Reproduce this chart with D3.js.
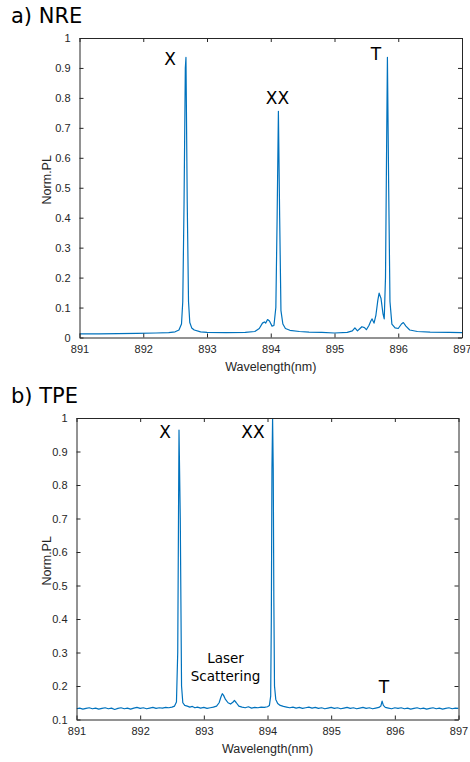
<!DOCTYPE html>
<html><head><meta charset="utf-8">
<script src="https://cdn.jsdelivr.net/npm/d3@7"></script>
<style>body{margin:0;background:#fff}svg{display:block}</style>
</head><body>
<script>
// ---------- DATA ----------
const xTicks = [891, 892, 893, 894, 895, 896, 897];
const yTicksA = [0, 0.1, 0.2, 0.3, 0.4, 0.5, 0.6, 0.7, 0.8, 0.9, 1];
const yTicksB = [0.1, 0.2, 0.3, 0.4, 0.5, 0.6, 0.7, 0.8, 0.9, 1];

// Panel a) NRE spectrum: wavelength (nm), normalized PL
const nreWl = [891.00,891.30,891.60,891.90,892.20,892.40,892.50,892.56,892.60,892.62,892.64,892.66,892.67,892.69,892.71,892.73,892.76,892.80,892.90,893.00,893.30,893.60,893.75,893.82,893.87,893.90,893.92,893.95,893.98,894.02,894.05,894.08,894.10,894.12,894.14,894.16,894.19,894.23,894.30,894.45,894.60,894.80,895.00,895.20,895.28,895.32,895.36,895.40,895.43,895.47,895.50,895.54,895.57,895.59,895.62,895.65,895.68,895.70,895.73,895.76,895.78,895.80,895.82,895.83,895.85,895.87,895.90,895.95,896.00,896.05,896.08,896.12,896.18,896.30,896.50,896.80,897.00];
const nreVal = [0.012,0.012,0.013,0.014,0.015,0.016,0.019,0.025,0.045,0.12,0.45,0.90,0.935,0.45,0.12,0.05,0.032,0.025,0.019,0.017,0.016,0.017,0.020,0.030,0.048,0.052,0.048,0.060,0.055,0.038,0.040,0.10,0.40,0.755,0.40,0.09,0.045,0.030,0.024,0.020,0.018,0.017,0.015,0.017,0.022,0.032,0.022,0.030,0.036,0.033,0.026,0.040,0.055,0.062,0.048,0.075,0.125,0.148,0.130,0.080,0.062,0.20,0.70,0.935,0.50,0.12,0.045,0.032,0.030,0.045,0.050,0.038,0.025,0.020,0.018,0.017,0.016];

// Panel b) TPE spectrum
const tpeWl = [891.00,891.05,891.10,891.15,891.20,891.25,891.30,891.35,891.40,891.45,891.50,891.55,891.60,891.65,891.70,891.75,891.80,891.85,891.90,891.95,892.00,892.05,892.10,892.15,892.20,892.25,892.30,892.35,892.40,892.45,892.50,892.54,892.57,892.59,892.61,892.63,892.65,892.67,892.70,892.74,892.78,892.82,892.86,892.90,892.95,893.00,893.05,893.10,893.15,893.20,893.24,893.27,893.29,893.31,893.34,893.38,893.42,893.46,893.48,893.51,893.55,893.60,893.65,893.70,893.75,893.80,893.85,893.90,893.95,894.00,894.03,894.05,894.06,894.07,894.08,894.09,894.10,894.11,894.13,894.16,894.20,894.25,894.30,894.35,894.40,894.45,894.50,894.55,894.60,894.65,894.70,894.75,894.80,894.85,894.90,894.95,895.00,895.05,895.10,895.15,895.20,895.25,895.30,895.35,895.40,895.45,895.50,895.55,895.60,895.65,895.70,895.75,895.78,895.80,895.82,895.85,895.90,895.95,896.00,896.05,896.10,896.15,896.20,896.25,896.30,896.35,896.40,896.45,896.50,896.55,896.60,896.65,896.70,896.75,896.80,896.85,896.90,896.95,897.00];
const tpeVal = [0.132,0.134,0.131,0.133,0.135,0.132,0.134,0.131,0.133,0.135,0.132,0.134,0.130,0.133,0.135,0.132,0.134,0.131,0.134,0.136,0.133,0.135,0.132,0.134,0.136,0.133,0.135,0.134,0.136,0.135,0.137,0.140,0.152,0.30,0.964,0.70,0.20,0.150,0.142,0.140,0.137,0.139,0.135,0.137,0.134,0.136,0.133,0.135,0.137,0.140,0.150,0.168,0.177,0.172,0.160,0.150,0.146,0.152,0.157,0.150,0.140,0.137,0.135,0.138,0.134,0.136,0.135,0.137,0.136,0.138,0.142,0.17,0.40,0.85,1.00,0.85,0.45,0.20,0.160,0.148,0.142,0.139,0.137,0.135,0.137,0.134,0.136,0.133,0.135,0.137,0.134,0.136,0.133,0.135,0.132,0.134,0.136,0.133,0.135,0.132,0.134,0.136,0.133,0.135,0.132,0.134,0.136,0.133,0.135,0.132,0.134,0.136,0.140,0.155,0.142,0.136,0.134,0.132,0.135,0.133,0.135,0.132,0.134,0.131,0.133,0.135,0.132,0.134,0.131,0.133,0.135,0.132,0.134,0.131,0.133,0.135,0.132,0.134,0.133];

// ---------- DRAW ----------
const W = 470, H = 762;
const svg = d3.select("body").append("svg").attr("width", W).attr("height", H);
const lineColor = "#0072BD", axisColor = "#262626";
const tickFont = "'Liberation Sans', Arial, sans-serif";
const annFont = "'DejaVu Sans', Verdana, sans-serif";

function panel(cfg) {
  const {left, right, top, bottom, ymin, yTicks, wl, val, id} = cfg;
  const x = d3.scaleLinear().domain([891, 897]).range([left, right]);
  const y = d3.scaleLinear().domain([ymin, 1]).range([bottom, top]);
  const g = svg.append("g");

  g.append("clipPath").attr("id", id).append("rect")
    .attr("x", left).attr("y", top).attr("width", right - left).attr("height", bottom - top);

  const data = wl.map((w, i) => [w, val[i]]);
  g.append("path").datum(data)
    .attr("clip-path", `url(#${id})`)
    .attr("fill", "none").attr("stroke", lineColor).attr("stroke-width", 1.2)
    .attr("stroke-linejoin", "round")
    .attr("d", d3.line().x(d => x(d[0])).y(d => y(d[1])));

  const fmt = d => d3.format("~g")(d);
  const styleAxis = sel => {
    sel.select(".domain").attr("stroke", axisColor).attr("stroke-width", 1);
    sel.selectAll(".tick line").attr("stroke", axisColor);
    sel.selectAll(".tick text").attr("fill", axisColor)
      .style("font-family", tickFont).style("font-size", "11px");
  };

  g.append("g").attr("transform", `translate(0,${bottom})`)
    .call(d3.axisBottom(x).tickValues(xTicks).tickFormat(d3.format("d")).tickSizeInner(-4).tickSizeOuter(0).tickPadding(8))
    .call(styleAxis);
  g.append("g").attr("transform", `translate(0,${top})`)
    .call(d3.axisTop(x).tickValues(xTicks).tickFormat("").tickSizeInner(-4).tickSizeOuter(0))
    .call(styleAxis);
  g.append("g").attr("transform", `translate(${left},0)`)
    .call(d3.axisLeft(y).tickValues(yTicks).tickFormat(fmt).tickSizeInner(-4).tickSizeOuter(0).tickPadding(9))
    .call(styleAxis);
  g.append("g").attr("transform", `translate(${right},0)`)
    .call(d3.axisRight(y).tickValues(yTicks).tickFormat("").tickSizeInner(-4).tickSizeOuter(0))
    .call(styleAxis);

  g.append("text").attr("x", (left + right) / 2).attr("y", bottom + 33)
    .attr("text-anchor", "middle").attr("fill", axisColor)
    .style("font-family", tickFont).style("font-size", "12.5px").text("Wavelength(nm)");
  g.append("text").attr("transform", `translate(51,${(top + bottom) / 2 - 8}) rotate(-90)`)
    .attr("text-anchor", "middle").attr("fill", axisColor)
    .style("font-family", tickFont).style("font-size", "12.5px").text("Norm.PL");
  return g;
}

panel({left: 79.5, right: 462, top: 38, bottom: 337.5, ymin: 0, yTicks: yTicksA, wl: nreWl, val: nreVal, id: "clipA"});
panel({left: 76.5, right: 458.5, top: 418, bottom: 719.5, ymin: 0.1, yTicks: yTicksB, wl: tpeWl, val: tpeVal, id: "clipB"});

const ann = (t, x, y, size, anchor = "middle") =>
  svg.append("text").attr("x", x).attr("y", y).attr("text-anchor", anchor)
    .attr("fill", "#000").style("font-family", annFont).style("font-size", size + "px").text(t);

ann("a) NRE", 11, 23, 21, "start");
ann("b) TPE", 11, 403, 21, "start");
ann("X", 170, 65, 17);
ann("XX", 277.5, 104, 17);
ann("T", 376, 60, 17);
ann("X", 165, 438, 17);
ann("XX", 253, 438, 17);
ann("Laser", 225.5, 663, 13.5);
ann("Scattering", 225.5, 681, 13.5);
ann("T", 384, 693, 17);
</script>
</body></html>
